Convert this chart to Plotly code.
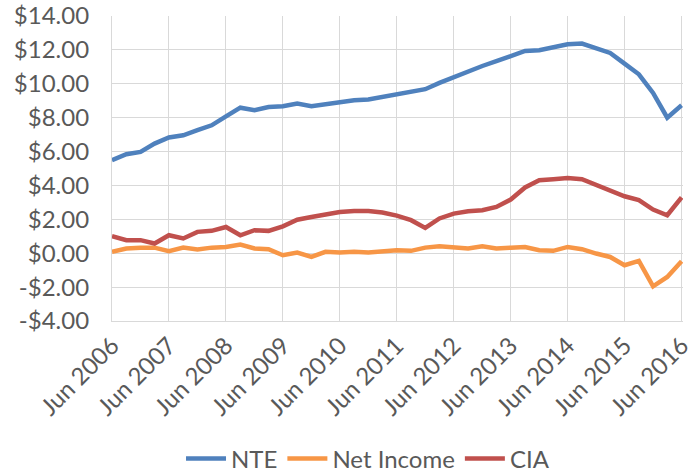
import pandas as pd
import plotly.graph_objects as go

# quarterly observations, Jun 2006 .. Jun 2016
quarters = pd.date_range("2006-06-01", "2016-06-01", freq="3MS")

nte = [5.49, 5.84, 5.98, 6.47, 6.83, 6.96, 7.26, 7.55, 8.08, 8.59,
       8.44, 8.63, 8.67, 8.83, 8.67, 8.79, 8.87, 9.03, 9.07, 9.22,
       9.40, 9.58, 9.68, 10.05, 10.40, 10.70, 11.05, 11.33, 11.62, 11.94,
       11.98, 12.13, 12.33, 12.37, 12.11, 11.82, 11.19, 10.56, 9.46, 8.00,
       8.73]
net_income = [0.08, 0.28, 0.33, 0.33, 0.12, 0.33, 0.22, 0.33, 0.37, 0.51,
              0.28, 0.24, -0.12, 0.04, -0.22, 0.08, 0.04, 0.08, 0.04, 0.14,
              0.18, 0.14, 0.33, 0.41, 0.37, 0.28, 0.41, 0.28, 0.33, 0.37,
              0.18, 0.14, 0.37, 0.24, -0.02, -0.22, -0.71, -0.45, -1.95, -1.40,
              -0.47]
cia = [1.00, 0.77, 0.77, 0.57, 1.06, 0.87, 1.26, 1.32, 1.55, 1.06,
       1.36, 1.32, 1.59, 1.98, 2.14, 2.30, 2.43, 2.49, 2.49, 2.40,
       2.22, 1.95, 1.49, 2.05, 2.34, 2.48, 2.54, 2.73, 3.17, 3.88,
       4.31, 4.37, 4.44, 4.37, 4.01, 3.66, 3.36, 3.13, 2.58, 2.24,
       3.29]

y_ticks = [-4, -2, 0, 2, 4, 6, 8, 10, 12, 14]
y_labels = ["-$4.00", "-$2.00", "$0.00", "$2.00", "$4.00", "$6.00",
            "$8.00", "$10.00", "$12.00", "$14.00"]

series = [("NTE", nte, "#4F81BD"),
          ("Net Income", net_income, "#F79646"),
          ("CIA", cia, "#C0504D")]

FONT = "Lato, Calibri, sans-serif"
GREY = "#595959"
GRID = "#d9d9d9"

fig = go.Figure()
for name, vals, color in series:
    fig.add_trace(go.Scatter(
        x=quarters, y=vals, name=name, mode="lines",
        line=dict(color=color, width=4.5),
    ))

fig.update_layout(
    width=697, height=473,
    margin=dict(l=112, r=14, t=16, b=152, autoexpand=False),
    paper_bgcolor="white",
    plot_bgcolor="white",
    font=dict(family=FONT, size=24, color=GREY),
    showlegend=True,
    legend=dict(
        orientation="h", xref="container", x=0.528, xanchor="center",
        yref="container", y=0.03, yanchor="middle",
        font=dict(family=FONT, size=24, color=GREY),
        itemwidth=40,
    ),
    xaxis=dict(
        type="date", automargin=False,
        range=["2006-06-01", "2016-06-10"],
        tick0="2006-06-01", dtick="M12",
        tickformat="%b %Y", tickangle=-45,
        showgrid=True, gridcolor=GRID, gridwidth=1.2,
        showline=True, linecolor=GRID, linewidth=1.2,
        zeroline=False, ticks="",
    ),
    yaxis=dict(
        range=[-4, 14], automargin=False,
        tickvals=y_ticks, ticktext=y_labels,
        showgrid=True, gridcolor=GRID, gridwidth=1.2,
        showline=True, linecolor=GRID, linewidth=1.2,
        zeroline=False, ticks="",
        ticklabelstandoff=17,
    ),
)

# drop the browser's default body margin so the figure sits at 0,0
fig.write_html("out.html", config={"displayModeBar": False},
               post_script="document.body.style.margin='0';")
